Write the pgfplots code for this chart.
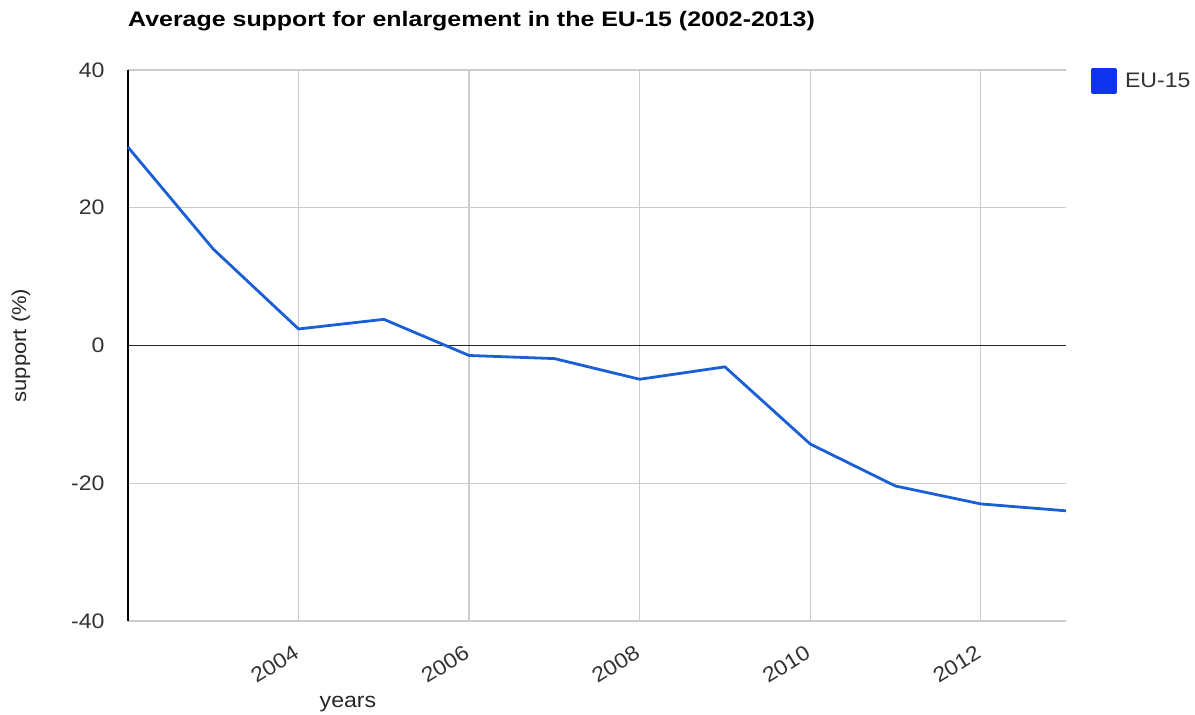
\documentclass[border=0pt]{standalone}
\usepackage{fontspec}
\setmainfont{Liberation Sans}[FakeStretch=1.1]
\usepackage{pgfplots}
\pgfplotsset{compat=1.18}
\definecolor{linecol}{HTML}{1A5FD6}
\definecolor{legcol}{HTML}{1033F0}
\definecolor{gridcol}{HTML}{CCCCCC}
\begin{document}
\begin{tikzpicture}
\useasboundingbox (0,0) rectangle (1195pt,715pt);
\begin{axis}[
  at={(128pt,94pt)}, anchor=south west,
  scale only axis, width=938pt, height=551pt,
  xmin=2002, xmax=2013, ymin=-40, ymax=40,
  enlargelimits=false, clip=false,
  axis x line=bottom, axis y line=left,
  x axis line style={-, draw=gridcol, line width=1.2pt},
  y axis line style={-, draw=black, line width=1.2pt},
  xtick={2004,2006,2008,2010,2012},
  ytick={-40,-20,20,40},
  extra y ticks={0},
  extra y tick style={grid style={draw=black!85, line width=1.6pt}},
  major tick length=0pt,
  grid=major,
  grid style={draw=gridcol, line width=1.2pt},
  /pgf/number format/assume math mode=true,
  /pgf/number format/1000 sep={},
  tick label style={font=\fontsize{21}{24}\selectfont, text=black!80},
  yticklabel style={anchor=east, xshift=-20pt},
  xticklabel style={rotate=32, anchor=north east, yshift=-13pt, xshift=-14pt},
  xlabel={years},
  xlabel style={at={([yshift=-83pt]rel axis cs:0.2345,0)}, anchor=center, font=\fontsize{21}{24}\selectfont, text=black!85},
  ylabel={support (\%)},
  ylabel style={at={([xshift=-107pt]rel axis cs:0,0.5)}, anchor=center, font=\fontsize{20}{24}\selectfont, text=black!85},
  legend style={at={(1,1)}, anchor=north west, xshift=22pt, yshift=4pt, draw=none, fill=none,
    font=\fontsize{21}{24}\selectfont, text=black!80,
    /tikz/every odd column/.append style={column sep=6pt}},
  legend image code/.code={\fill[legcol] (0pt,-11.5pt) rectangle (23pt,11.5pt);},
  legend cell align=left,
]
\addplot[linecol, line width=2.8pt, line join=round] coordinates {
  (2002,28.8) (2003,14.0) (2004,2.4) (2005,3.8) (2006,-1.45) (2007,-1.9)
  (2008,-4.9) (2009,-3.1) (2010,-14.3) (2011,-20.4) (2012,-23.0) (2013,-24.0)
};
\addlegendentry{EU-15}
\node[anchor=west, font=\fontsize{21}{24}\selectfont\bfseries, inner sep=0pt] at (rel axis cs:0,1) [yshift=49pt]
  {\scalebox{1.08}[1]{Average support for enlargement in the EU-15 (2002-2013)}};
\end{axis}
\end{tikzpicture}
\end{document}
